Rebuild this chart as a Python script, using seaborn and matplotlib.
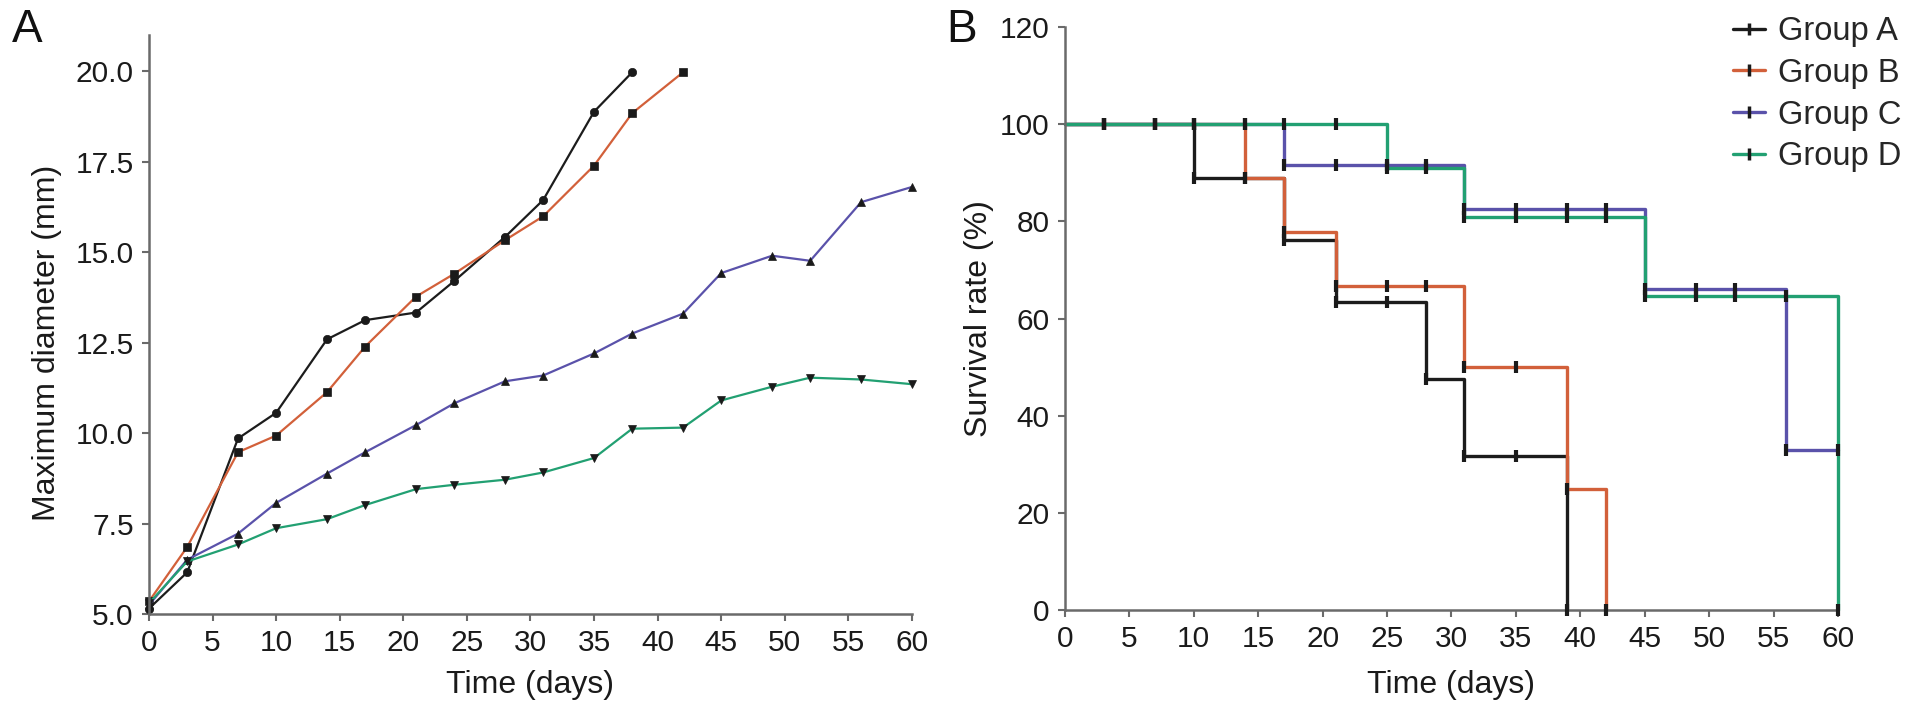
import numpy as np
import pandas as pd
import matplotlib
matplotlib.use('Agg')
import matplotlib.pyplot as plt
from matplotlib.lines import Line2D
import seaborn as sns

sns.set_theme(style='ticks')
plt.rcParams['font.family'] = ['Liberation Sans', 'DejaVu Sans']

BLACK = '#1c1c1c'; RED = '#d2603a'; BLUE = '#5a52aa'; GREEN = '#22a072'
AXC = '#6a6a6a'

# ── panel A: tumour growth ────────────────────────────────────────────────
days = [0, 3, 7, 10, 14, 17, 21, 24, 28, 31, 35, 38, 42, 45, 49, 52, 56, 60]
diam_a = [5.15, 6.15, 9.85, 10.56, 12.59, 13.12, 13.33, 14.2, 15.42, 16.44, 18.88, 19.97]
diam_b = [5.35, 6.85, 9.47, 9.93, 11.13, 12.39, 13.77, 14.4, 15.33, 15.99, 17.39, 18.84, 19.97]
diam_c = [5.25, 6.5, 7.22, 8.07, 8.88, 9.47, 10.22, 10.82, 11.43, 11.59, 12.2, 12.75,
          13.3, 14.42, 14.9, 14.76, 16.38, 16.8]
diam_d = [5.3, 6.45, 6.92, 7.37, 7.62, 8.01, 8.45, 8.57, 8.71, 8.91, 9.31, 10.12,
          10.15, 10.9, 11.28, 11.53, 11.48, 11.35]

# ── panel B: survival (step curves + tick marks) ──────────────────────────
km_a_t = [0, 10, 17, 21, 28, 31, 39]
km_a_s = [100, 88.9, 76.2, 63.5, 47.6, 31.7, 0]
km_b_t = [0, 14, 17, 21, 31, 39, 42]
km_b_s = [100, 88.9, 77.8, 66.7, 50, 25, 0]
km_c_t = [0, 17, 31, 45, 56, 60]
km_c_s = [100, 91.7, 82.5, 66, 33, 33]
km_d_t = [0, 25, 31, 45, 60]
km_d_s = [100, 90.9, 80.8, 64.6, 0]

obs_days = [3, 7, 10, 14, 17, 21, 25, 28, 31, 35, 39, 42, 45, 49, 52, 56, 60]
tick_a_s = [100, 100, 88.9, 88.9, 76.2, 63.5, 63.5, 47.6, 31.7, 31.7, 0]
tick_b_s = [100, 100, 100, 88.9, 77.8, 66.7, 66.7, 66.7, 50, 50, 25, 0]
tick_c_s = [100, 100, 100, 100, 91.7, 91.7, 91.7, 91.7, 82.5, 82.5, 82.5, 82.5,
            66, 66, 66, 33, 33]
tick_d_s = [100, 100, 100, 100, 100, 100, 90.9, 90.9, 80.8, 80.8, 80.8, 80.8,
            64.6, 64.6, 64.6, 64.6, 0]

groups = ['Group A', 'Group B', 'Group C', 'Group D']
colors = [BLACK, RED, BLUE, GREEN]


def style_ax(ax):
    sns.despine(ax=ax)
    for sp in ['bottom', 'left']:
        ax.spines[sp].set_color(AXC)
        ax.spines[sp].set_linewidth(1.8)
    ax.tick_params(colors=AXC, labelcolor='#1a1a1a', labelsize=21.5,
                   length=5, width=1.5, pad=6)


fig = plt.figure(figsize=(19.13, 7.17), dpi=100)
fig.patch.set_facecolor('white')

ax1 = fig.add_axes([0.0779, 0.1437, 0.3988, 0.8075])
ax2 = fig.add_axes([0.5567, 0.1492, 0.4041, 0.8131])

# ── A ──
markers = ['o', 's', '^', 'v']
for y, c, m in zip([diam_a, diam_b, diam_c, diam_d], colors, markers):
    sns.lineplot(x=days[:len(y)], y=y, ax=ax1, color=c, marker=m, markersize=6,
                 markerfacecolor='k', markeredgecolor='k', markeredgewidth=0.5,
                 linewidth=1.6, clip_on=False, legend=False)
style_ax(ax1)
ax1.set_xlim(0, 60); ax1.set_ylim(5, 21)
ax1.set_xticks(np.arange(0, 61, 5))
ax1.set_yticks(np.arange(5, 20.1, 2.5))
ax1.set_yticklabels([f'{v:.1f}' for v in np.arange(5, 20.1, 2.5)])
ax1.set_xlabel('Time (days)', fontsize=23, color='#1a1a1a')
ax1.set_ylabel('Maximum diameter (mm)', fontsize=23, color='#1a1a1a')
ax1.xaxis.set_label_coords(0.5, -0.097)
ax1.yaxis.set_label_coords(-0.114, 0.469)

# ── B ──
km = [(km_a_t, km_a_s), (km_b_t, km_b_s), (km_c_t, km_c_s), (km_d_t, km_d_s)]
for (t, s), c in zip(km, colors):
    sns.lineplot(x=t, y=s, ax=ax2, color=c, drawstyle='steps-post',
                 linewidth=2.4, clip_on=False, legend=False)
for s in [tick_a_s, tick_b_s, tick_c_s, tick_d_s]:
    ax2.plot(obs_days[:len(s)], s, ls='none', marker='|', color='k',
             markersize=9, markeredgewidth=3, clip_on=False, zorder=5)
style_ax(ax2)
ax2.set_xlim(0, 60); ax2.set_ylim(0, 120)
ax2.set_xticks(np.arange(0, 61, 5))
ax2.set_yticks(np.arange(0, 121, 20))
ax2.set_xlabel('Time (days)', fontsize=23, color='#1a1a1a')
ax2.set_ylabel('Survival rate (%)', fontsize=23, color='#1a1a1a')
ax2.xaxis.set_label_coords(0.5, -0.103)
ax2.yaxis.set_label_coords(-0.092, 0.5)

handles = [Line2D([], [], color=c, lw=2.4, marker='|', markerfacecolor='k',
                  markeredgecolor='k', markersize=8, markeredgewidth=2.5)
           for c in colors]
fig.legend(handles, groups, loc='upper right', bbox_to_anchor=(1902 / 1913, 1 - 16 / 717),
           frameon=False, fontsize=23.5, handlelength=1.0, handletextpad=0.4,
           labelspacing=0.33, borderpad=0, borderaxespad=0)

fig.text(12 / 1913, 1 - 8 / 717, 'A', fontsize=33, va='top', ha='left', color='#111')
fig.text(946 / 1913, 1 - 8 / 717, 'B', fontsize=33, va='top', ha='left', color='#111')

plt.savefig('out.png', dpi=100, facecolor='white')
plt.close()
